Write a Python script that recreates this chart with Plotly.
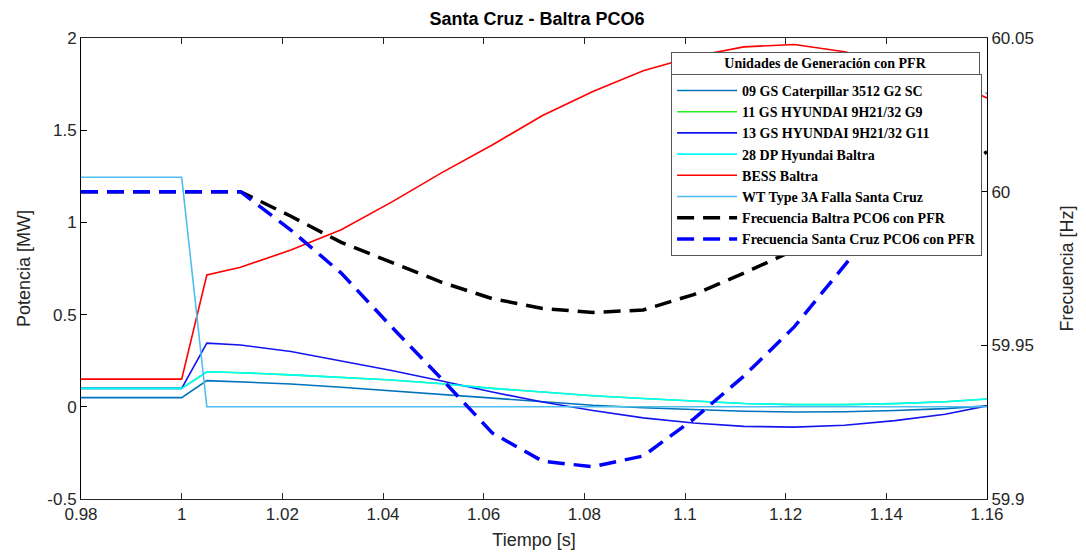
import plotly.graph_objects as go

# ---- data ----
t = [0.98, 1.0, 1.005, 1.0117, 1.0217, 1.0317, 1.0417, 1.0517, 1.0617, 1.0717,
     1.0817, 1.0917, 1.1017, 1.1117, 1.1217, 1.1317, 1.1417, 1.1517, 1.16]

p_gs09 = [0.05, 0.05, 0.142, 0.136, 0.124, 0.106, 0.086, 0.066, 0.045, 0.025,
          0.008, -0.005, -0.016, -0.024, -0.028, -0.027, -0.02, -0.01, 0.005]
p_gs11 = [0.1, 0.1, 0.19, 0.185, 0.173, 0.16, 0.145, 0.125, 0.1, 0.08,
          0.06, 0.045, 0.03, 0.018, 0.012, 0.012, 0.017, 0.027, 0.042]
p_gs13 = [0.1, 0.1, 0.345, 0.335, 0.3, 0.25, 0.197, 0.14, 0.08, 0.026,
          -0.02, -0.06, -0.088, -0.106, -0.11, -0.1, -0.075, -0.04, 0.005]
p_dp28 = [0.1, 0.1, 0.19, 0.185, 0.173, 0.16, 0.145, 0.125, 0.1, 0.08,
          0.06, 0.045, 0.03, 0.018, 0.012, 0.012, 0.017, 0.027, 0.042]
p_bess = [0.15, 0.15, 0.715, 0.757, 0.85, 0.96, 1.11, 1.27, 1.42, 1.58,
          1.71, 1.823, 1.9, 1.952, 1.965, 1.925, 1.86, 1.775, 1.675]
p_wt = [1.245, 1.245, 0.0, 0.0, 0.0, 0.0, 0.0, 0.0, 0.0, 0.0,
        0.0, 0.0, 0.0, 0.0, 0.0, 0.0, 0.0, 0.0, 0.0]
f_baltra = [60.0, 60.0, 60.0, 60.0, 59.992, 59.9835, 59.977, 59.9705, 59.9652, 59.962,
            59.9607, 59.9615, 59.9665, 59.9735, 59.981, 59.9885, 59.996, 60.004, 60.013]
f_scruz = [60.0, 60.0, 60.0, 60.0, 59.9875, 59.9735, 59.956, 59.939, 59.9215, 59.9123,
           59.9105, 59.914, 59.926, 59.94, 59.956, 59.976, 59.996, 60.016, 60.032]

x_ticks = [0.98, 1.0, 1.02, 1.04, 1.06, 1.08, 1.1, 1.12, 1.14, 1.16]
x_tick_text = ["0.98", "1", "1.02", "1.04", "1.06", "1.08", "1.1", "1.12", "1.14", "1.16"]
y_ticks = [-0.5, 0, 0.5, 1, 1.5, 2]
y_tick_text = ["-0.5", "0", "0.5", "1", "1.5", "2"]
y2_ticks = [59.9, 59.95, 60.0, 60.05]
y2_tick_text = ["59.9", "59.95", "60", "60.05"]

legend_title = "Unidades de Generación con PFR"

power_series = [
    ("09 GS Caterpillar 3512 G2 SC", p_gs09, "#0072BD"),
    ("11 GS HYUNDAI 9H21/32 G9", p_gs11, "#22EE22"),
    ("13 GS HYUNDAI 9H21/32 G11", p_gs13, "#1515F0"),
    ("28 DP Hyundai Baltra", p_dp28, "#00FFFF"),
    ("BESS Baltra", p_bess, "#FF0000"),
    ("WT Type 3A Falla Santa Cruz", p_wt, "#4DBEEE"),
]
freq_series = [
    ("Frecuencia Baltra PCO6 con PFR", f_baltra, "#000000"),
    ("Frecuencia Santa Cruz PCO6 con PFR", f_scruz, "#0000FF"),
]

fig = go.Figure()
for name, vals, col in power_series:
    fig.add_trace(go.Scatter(x=t, y=vals, name="<b>" + name + "</b>", mode="lines",
                             line=dict(color=col, width=1.6), yaxis="y"))
for name, vals, col in freq_series:
    fig.add_trace(go.Scatter(x=t, y=vals, name="<b>" + name + "</b>", mode="lines",
                             line=dict(color=col, width=3.5, dash="17px,9px"), yaxis="y2"))

axis_font = dict(family="Arial, Liberation Sans, sans-serif", size=17, color="#262626")
title_font = dict(family="Arial, Liberation Sans, sans-serif", size=18, color="#262626")
leg_font = dict(family="Liberation Serif, Times New Roman, serif", size=14, color="#000000")

PL, PR, PT, PB = 81, 993, 38, 500
PW, PH = PR - PL, PB - PT
box_left = 675.0
box_top = 51.7
title_bottom = 75.0
box_w = 309.0

fig.update_layout(
    width=1086, height=558,
    margin=dict(l=81, r=93, t=38, b=58),
    paper_bgcolor="white", plot_bgcolor="white",
    title=dict(text="<b>Santa Cruz - Baltra PCO6</b>", x=(PL + PR) / 2 / 1086, xanchor="center",
               y=1 - 19 / 558, yanchor="middle",
               font=dict(family="Arial, Liberation Sans, sans-serif", size=18, color="#000000")),
    xaxis=dict(range=[0.98, 1.16], tickvals=x_ticks, ticktext=x_tick_text,
               showline=True, linecolor="#262626", linewidth=1, mirror="ticks",
               ticks="inside", ticklen=6, tickcolor="#262626", showgrid=False, zeroline=False,
               tickfont=axis_font, title=dict(text="Tiempo [s]", font=title_font, standoff=9)),
    yaxis=dict(range=[-0.5, 2], tickvals=y_ticks, ticktext=y_tick_text,
               showline=True, linecolor="#000000", linewidth=1,
               ticks="inside", ticklen=6, tickcolor="#000000", showgrid=False, zeroline=False,
               tickfont=axis_font, title=dict(text="Potencia [MW]", font=title_font, standoff=12)),
    yaxis2=dict(range=[59.9, 60.05], tickvals=y2_ticks, ticktext=y2_tick_text,
                overlaying="y", side="right",
                showline=True, linecolor="#000000", linewidth=1,
                ticks="inside", ticklen=6, tickcolor="#000000", showgrid=False, zeroline=False,
                tickfont=axis_font, title=dict(text="Frecuencia [Hz]", font=title_font, standoff=27)),
    legend=dict(x=(box_left - PL) / PW, y=(PB - title_bottom + 1) / PH, xanchor="left", yanchor="top",
                bgcolor="white", bordercolor="#555555", borderwidth=1,
                font=leg_font, tracegroupgap=0, itemwidth=60),
    showlegend=True,
    annotations=[dict(text="<b>" + legend_title + "</b>", xref="paper", yref="paper",
                      x=(box_left - PL) / PW, y=(PB - box_top) / PH,
                      xanchor="left", yanchor="top", showarrow=False,
                      width=box_w - 2, height=title_bottom - box_top - 2, align="center",
                      valign="middle", borderpad=0,
                      bgcolor="white", bordercolor="#555555", borderwidth=1,
                      font=leg_font)],
)

fig.write_html("out.html")
